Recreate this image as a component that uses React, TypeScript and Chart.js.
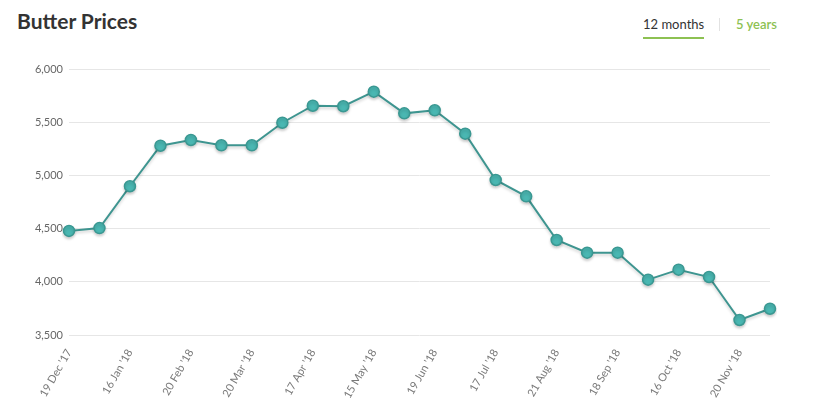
import React, { useEffect, useRef } from "react";
import { Chart, registerables } from "chart.js";

Chart.register(...registerables);

const TITLE = "Butter Prices";
const TABS = ["12 months", "5 years"];

const dates = [
  "19 Dec '17", "2 Jan '18", "16 Jan '18", "6 Feb '18", "20 Feb '18", "6 Mar '18",
  "20 Mar '18", "3 Apr '18", "17 Apr '18", "1 May '18", "15 May '18", "5 Jun '18",
  "19 Jun '18", "3 Jul '18", "17 Jul '18", "7 Aug '18", "21 Aug '18", "4 Sep '18",
  "18 Sep '18", "2 Oct '18", "16 Oct '18", "6 Nov '18", "20 Nov '18", "4 Dec '18",
];

const prices = [
  4478, 4505, 4898, 5279, 5333, 5283, 5283, 5495, 5655, 5650, 5787, 5583,
  5612, 5392, 4957, 4803, 4393, 4274, 4274, 4020, 4114, 4045, 3641, 3747,
];

const yMin = 3500;
const yMax = 6000;
const yStep = 500;

const FONT = "Lato, 'Open Sans', sans-serif";

export default function App() {
  const ref = useRef<HTMLCanvasElement | null>(null);

  useEffect(() => {
    if (!ref.current) return;
    const shadowPlugin = {
      id: "lineShadow",
      beforeDatasetsDraw(chart: any) {
        const ctx = chart.ctx;
        ctx.save();
        ctx.shadowColor = "rgba(0,0,0,0.18)";
        ctx.shadowBlur = 3;
        ctx.shadowOffsetX = 0;
        ctx.shadowOffsetY = 2;
      },
      afterDatasetsDraw(chart: any) {
        chart.ctx.restore();
      },
    };
    const chart = new Chart(ref.current, {
      type: "line",
      data: {
        labels: dates,
        datasets: [
          {
            data: prices,
            borderColor: "#3e9590",
            borderWidth: 2,
            backgroundColor: "#4ab7b2",
            pointBackgroundColor: "#4ab7b2",
            pointBorderColor: "#3a9892",
            pointBorderWidth: 1.5,
            pointRadius: 5.5,
            tension: 0,
            fill: false,
          },
        ],
      },
      options: {
        animation: false,
        responsive: false,
        maintainAspectRatio: false,
        layout: { padding: { top: 19, right: 45, left: 0, bottom: 0 } },
        plugins: { legend: { display: false }, tooltip: { enabled: false } },
        scales: {
          x: {
            offset: false,
            grid: { display: false, drawTicks: false },
            border: { display: false },
            afterFit(scale: any) {
              scale.height = 85;
            },
            ticks: {
              autoSkip: false,
              minRotation: 60,
              maxRotation: 60,
              padding: 12,
              color: "#7a7a7a",
              font: { family: FONT, size: 11 },
              callback(_v: any, i: number) {
                return i % 2 === 0 ? dates[i] : "";
              },
            },
          },
          y: {
            min: yMin,
            max: yMax,
            grid: { color: "#e6e6e6", drawTicks: false, lineWidth: 1 },
            border: { display: false },
            afterFit(scale: any) {
              scale.width = 69;
            },
            ticks: {
              stepSize: yStep,
              padding: 6,
              color: "#666",
              font: { family: FONT, size: 11 },
              callback(v: any) {
                return Number(v).toLocaleString("en-US");
              },
            },
          },
        },
      },
      plugins: [shadowPlugin],
    });
    return () => chart.destroy();
  }, []);

  return (
    <div style={{ position: "absolute", left: 0, top: 0, width: 815, height: 420, background: "#fff", fontFamily: FONT }}>
      <div style={{ position: "absolute", left: 17, top: 7, fontSize: 21, fontWeight: 700, color: "#333", lineHeight: "28px" }}>
        {TITLE}
      </div>
      <div style={{ position: "absolute", left: 643, top: 15, fontSize: 13, color: "#333", lineHeight: "18px" }}>
        {TABS[0]}
      </div>
      <div style={{ position: "absolute", left: 643, top: 37, width: 61, height: 2, background: "#8dc152" }} />
      <div style={{ position: "absolute", left: 719, top: 18, width: 1, height: 13, background: "#e2e2e2" }} />
      <div style={{ position: "absolute", left: 736, top: 15, fontSize: 13, color: "#8dc152", lineHeight: "18px", fontWeight: 600 }}>
        {TABS[1]}
      </div>
      <canvas ref={ref} width={815} height={370} style={{ position: "absolute", left: 0, top: 50, width: 815, height: 370 }} />
    </div>
  );
}
